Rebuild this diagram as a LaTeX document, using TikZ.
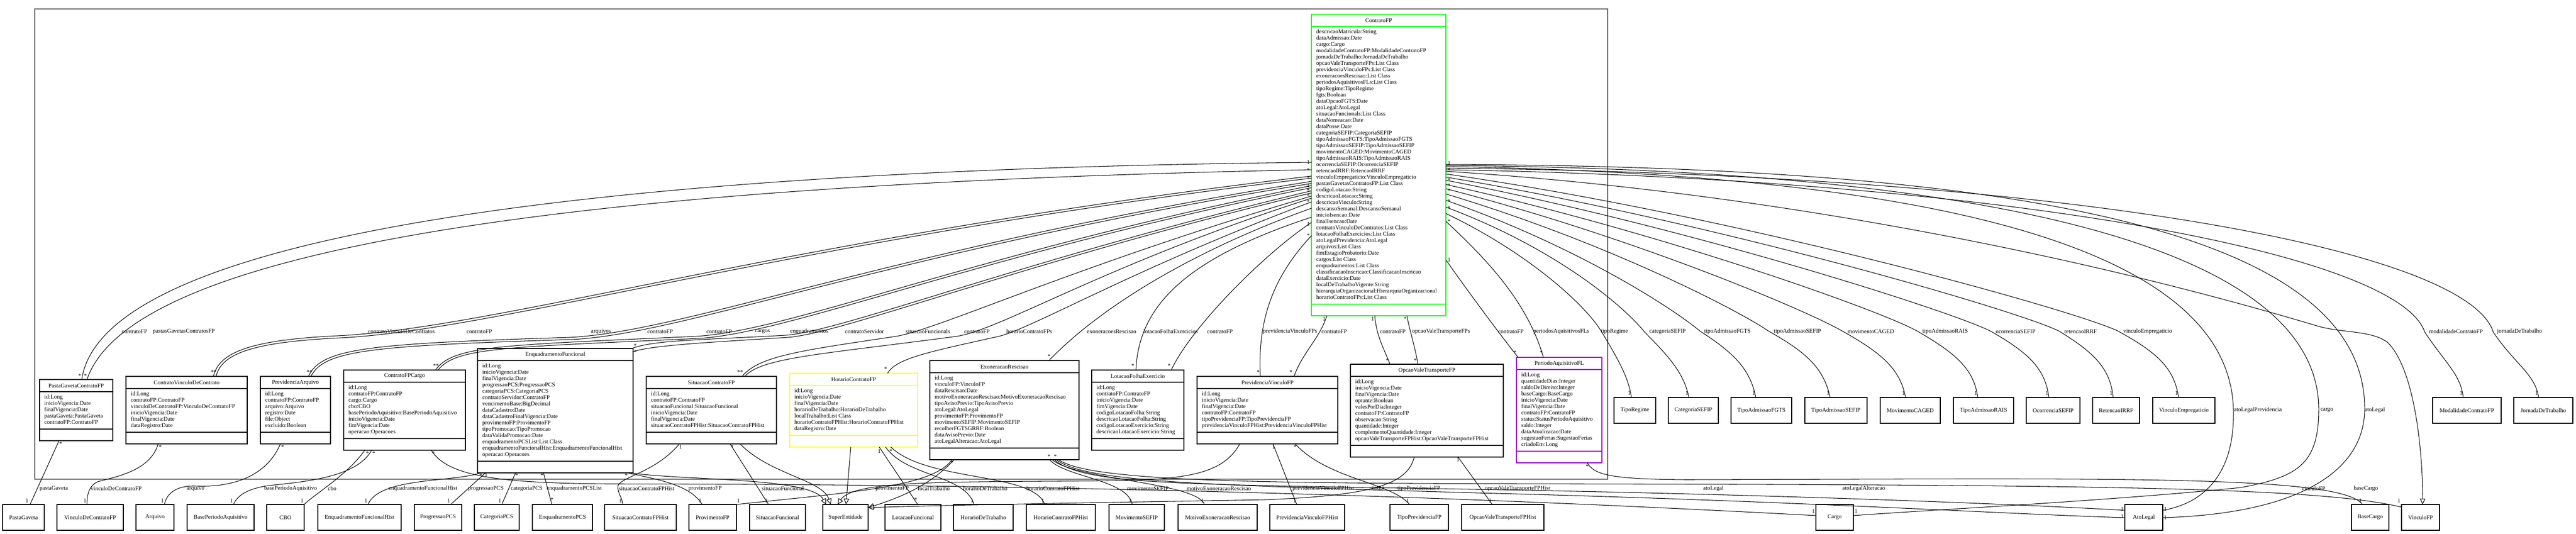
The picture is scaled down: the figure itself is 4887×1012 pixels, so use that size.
\documentclass[tikz,border=0pt]{standalone}
\usepackage{fontspec}
\setmainfont{Liberation Serif}
\usetikzlibrary{arrows.meta}
\definecolor{ugreen}{RGB}{0,255,0}
\definecolor{uyellow}{RGB}{255,255,0}
\definecolor{upurple}{RGB}{153,0,204}
\definecolor{framegray}{RGB}{90,90,90}
\tikzset{
 txt/.style={font=\fontsize{11}{12}\selectfont, inner sep=0pt},
 bplain/.style={draw=black, line width=1.4pt},
 bgreen/.style={draw=ugreen, line width=2.6pt},
 byellow/.style={draw=uyellow, line width=2.6pt},
 bpurple/.style={draw=upurple, line width=2.6pt},
 smallbox/.style={bplain, fill=white, txt, minimum height=49pt, anchor=north west, outer sep=0pt},
 conn/.style={line width=1.05pt, black},
 genarrow/.style={conn, -{Triangle[open, length=11pt, width=10pt]}},
 lbl/.style={txt, anchor=west},
 mlt/.style={txt},
}
\newcommand\umlclass[8]{%
  \node[#6, fill=white, inner sep=0pt, outer sep=0pt, minimum width=#4pt,
        minimum height={(56+12*#5)*1pt}, anchor=north west] (#1) at (#2,#3) {};
  \draw[#6] (#2,#3+23) -- (#2+#4,#3+23);
  \draw[#6] (#2,#3+34+12*#5) -- (#2+#4,#3+34+12*#5);
  \node[txt] at (#2+#4/2,#3+11.5) {#7};
  \node[txt, anchor=north west, align=left] at (#2+9,#3+29) {#8};
}
\begin{document}
\begin{tikzpicture}[x=1pt,y=-1pt]
\useasboundingbox[fill=white] (0,0) rectangle (4887,1012);
% package frame
\node[draw=framegray, line width=1.5pt, minimum width=2984pt, minimum height=892pt, anchor=north west, inner sep=0pt] (pkg) at (65,16) {};

% ---------------- classes ----------------
\umlclass{cfp}{2488}{27}{255}{43}{bgreen}{ContratoFP}{descricaoMatricula:String\\dataAdmissao:Date\\cargo:Cargo\\modalidadeContratoFP:ModalidadeContratoFP\\jornadaDeTrabalho:JornadaDeTrabalho\\opcaoValeTransporteFPs:List Class\\previdenciaVinculoFPs:List Class\\exoneracoesRescisao:List Class\\periodosAquisitivosFLs:List Class\\tipoRegime:TipoRegime\\fgts:Boolean\\dataOpcaoFGTS:Date\\atoLegal:AtoLegal\\situacaoFuncionals:List Class\\dataNomeacao:Date\\dataPosse:Date\\categoriaSEFIP:CategoriaSEFIP\\tipoAdmissaoFGTS:TipoAdmissaoFGTS\\tipoAdmissaoSEFIP:TipoAdmissaoSEFIP\\movimentoCAGED:MovimentoCAGED\\tipoAdmissaoRAIS:TipoAdmissaoRAIS\\ocorrenciaSEFIP:OcorrenciaSEFIP\\retencaoIRRF:RetencaoIRRF\\vinculoEmpregaticio:VinculoEmpregaticio\\pastasGavetasContratosFP:List Class\\codigoLotacao:String\\descricaoLotacao:String\\descricaoVinculo:String\\descansoSemanal:DescansoSemanal\\inicioIsencao:Date\\finalIsencao:Date\\contratoVinculoDeContratos:List Class\\lotacaoFolhaExercicios:List Class\\atoLegalPrevidencia:AtoLegal\\arquivos:List Class\\fimEstagioProbatorio:Date\\cargos:List Class\\enquadramentos:List Class\\classificacaoInscricao:ClassificacaoInscricao\\dataExercicio:Date\\localDeTrabalhoVigente:String\\hierarquiaOrganizacional:HierarquiaOrganizacional\\horarioContratoFPs:List Class}

\umlclass{pgc}{75}{720}{139}{5}{bplain}{PastaGavetaContratoFP}{id:Long\\inicioVigencia:Date\\finalVigencia:Date\\pastaGaveta:PastaGaveta\\contratoFP:ContratoFP}
\umlclass{cvc}{239}{714}{230}{6}{bplain}{ContratoVinculoDeContrato}{id:Long\\contratoFP:ContratoFP\\vinculoDeContratoFP:VinculoDeContratoFP\\inicioVigencia:Date\\finalVigencia:Date\\dataRegistro:Date}
\umlclass{parq}{494}{714}{133}{6}{bplain}{PrevidenciaArquivo}{id:Long\\contratoFP:ContratoFP\\arquivo:Arquivo\\registro:Date\\file:Object\\excluido:Boolean}
\umlclass{cfc}{652}{702}{231}{8}{bplain}{ContratoFPCargo}{id:Long\\contratoFP:ContratoFP\\cargo:Cargo\\cbo:CBO\\basePeriodoAquisitivo:BasePeriodoAquisitivo\\inicioVigencia:Date\\fimVigencia:Date\\operacao:Operacoes}
\umlclass{enf}{906}{661}{295}{15}{bplain}{EnquadramentoFuncional}{id:Long\\inicioVigencia:Date\\finalVigencia:Date\\progressaoPCS:ProgressaoPCS\\categoriaPCS:CategoriaPCS\\contratoServidor:ContratoFP\\vencimentoBase:BigDecimal\\dataCadastro:Date\\dataCadastroFinalVigencia:Date\\provimentoFP:ProvimentoFP\\tipoPromocao:TipoPromocao\\dataValidaPromocao:Date\\enquadramentoPCSList:List Class\\enquadramentoFuncionalHist:EnquadramentoFuncionalHist\\operacao:Operacoes}
\umlclass{scf}{1226}{714}{247}{6}{bplain}{SituacaoContratoFP}{id:Long\\contratoFP:ContratoFP\\situacaoFuncional:SituacaoFuncional\\inicioVigencia:Date\\finalVigencia:Date\\situacaoContratoFPHist:SituacaoContratoFPHist}
\umlclass{hcf}{1498}{708}{243}{7}{byellow}{HorarioContratoFP}{id:Long\\inicioVigencia:Date\\finalVigencia:Date\\horarioDeTrabalho:HorarioDeTrabalho\\localTrabalho:List Class\\horarioContratoFPHist:HorarioContratoFPHist\\dataRegistro:Date}
\umlclass{exr}{1764}{684}{283}{11}{bplain}{ExoneracaoRescisao}{id:Long\\vinculoFP:VinculoFP\\dataRescisao:Date\\motivoExoneracaoRescisao:MotivoExoneracaoRescisao\\tipoAvisoPrevio:TipoAvisoPrevio\\atoLegal:AtoLegal\\provimentoFP:ProvimentoFP\\movimentoSEFIP:MovimentoSEFIP\\recolherFGTSGRRF:Boolean\\dataAvisoPrevio:Date\\atoLegalAlteracao:AtoLegal}
\umlclass{lfe}{2071}{702}{175}{8}{bplain}{LotacaoFolhaExercicio}{id:Long\\contratoFP:ContratoFP\\inicioVigencia:Date\\fimVigencia:Date\\codigoLotacaoFolha:String\\descricaoLotacaoFolha:String\\codigoLotacaoExercicio:String\\descricaoLotacaoExercicio:String}
\umlclass{pvf}{2271}{714}{267}{6}{bplain}{PrevidenciaVinculoFP}{id:Long\\inicioVigencia:Date\\finalVigencia:Date\\contratoFP:ContratoFP\\tipoPrevidenciaFP:TipoPrevidenciaFP\\previdenciaVinculoFPHist:PrevidenciaVinculoFPHist}
\umlclass{ovt}{2562}{691}{290}{10}{bplain}{OpcaoValeTransporteFP}{id:Long\\inicioVigencia:Date\\finalVigencia:Date\\optante:Boolean\\valesPorDia:Integer\\contratoFP:ContratoFP\\observacao:String\\quantidade:Integer\\complementoQuantidade:Integer\\opcaoValeTransporteFPHist:OpcaoValeTransporteFPHist}
\umlclass{paf}{2877}{678}{162}{12}{bpurple}{PeriodoAquisitivoFL}{id:Long\\quantidadeDias:Integer\\saldoDeDireito:Integer\\baseCargo:BaseCargo\\inicioVigencia:Date\\finalVigencia:Date\\contratoFP:ContratoFP\\status:StatusPeriodoAquisitivo\\saldo:Integer\\dataAtualizacao:Date\\sugestaoFerias:SugestaoFerias\\criadoEm:Long}

% ---------------- enum boxes (right) ----------------
\node[smallbox, minimum width=79pt] (eTR) at (3062,754) {TipoRegime};
\node[smallbox, minimum width=95pt] (eCS) at (3165,754) {CategoriaSEFIP};
\node[smallbox, minimum width=115pt] (eTAF) at (3284,754) {TipoAdmissaoFGTS};
\node[smallbox, minimum width=118pt] (eTAS) at (3424,754) {TipoAdmissaoSEFIP};
\node[smallbox, minimum width=114pt] (eMC) at (3567,754) {MovimentoCAGED};
\node[smallbox, minimum width=114pt] (eTAR) at (3706,754) {TipoAdmissaoRAIS};
\node[smallbox, minimum width=102pt] (eOS) at (3844,754) {OcorrenciaSEFIP};
\node[smallbox, minimum width=89pt] (eRI) at (3970,754) {RetencaoIRRF};
\node[smallbox, minimum width=118pt] (eVE) at (4084,754) {VinculoEmpregaticio};
\node[smallbox, minimum width=130pt] (eMCF) at (4615,754) {ModalidadeContratoFP};
\node[smallbox, minimum width=112pt] (eJT) at (4769,754) {JornadaDeTrabalho};

% ---------------- bottom boxes ----------------
\node[smallbox, minimum width=79pt] (bPG) at (5,957) {PastaGaveta};
\node[smallbox, minimum width=126pt] (bVDC) at (108,957) {VinculoDeContratoFP};
\node[smallbox, minimum width=72pt] (bArq) at (258,957) {Arquivo};
\node[smallbox, minimum width=127pt] (bBPA) at (355,957) {BasePeriodoAquisitivo};
\node[smallbox, minimum width=71pt] (bCBO) at (506,957) {CBO};
\node[smallbox, minimum width=158pt] (bEFH) at (603,957) {EnquadramentoFuncionalHist};
\node[smallbox, minimum width=90pt] (bPPCS) at (786,957) {ProgressaoPCS};
\node[smallbox, minimum width=85pt] (bCPCS) at (900,957) {CategoriaPCS};
\node[smallbox, minimum width=114pt] (bEPCS) at (1010,957) {EnquadramentoPCS};
\node[smallbox, minimum width=136pt] (bSCFH) at (1147,957) {SituacaoContratoFPHist};
\node[smallbox, minimum width=90pt] (bProv) at (1307,957) {ProvimentoFP};
\node[smallbox, minimum width=106pt] (bSF) at (1422,957) {SituacaoFuncional};
\node[smallbox, minimum width=86pt] (bSE) at (1561,957) {SuperEntidade};
\node[smallbox, minimum width=106pt] (bLF) at (1679,957) {LotacaoFuncional};
\node[smallbox, minimum width=113pt] (bHDT) at (1809,957) {HorarioDeTrabalho};
\node[smallbox, minimum width=131pt] (bHCFH) at (1947,957) {HorarioContratoFPHist};
\node[smallbox, minimum width=105pt] (bMS) at (2104,957) {MovimentoSEFIP};
\node[smallbox, minimum width=150pt] (bMER) at (2235,957) {MotivoExoneracaoRescisao};
\node[smallbox, minimum width=142pt] (bPVFH) at (2409,957) {PrevidenciaVinculoFPHist};
\node[smallbox, minimum width=111pt] (bTPF) at (2637,957) {TipoPrevidenciaFP};
\node[smallbox, minimum width=156pt] (bOVTH) at (2773,957) {OpcaoValeTransporteFPHist};
\node[smallbox, minimum width=71pt] (bCargo) at (3445,957) {Cargo};
\node[smallbox, minimum width=72pt] (bAL) at (4031,957) {AtoLegal};
\node[smallbox, minimum width=71pt] (bBC) at (4461,957) {BaseCargo};
\node[smallbox, minimum width=72pt] (bVFP) at (4556,957) {VinculoFP};

% ---------------- edges from ContratoFP, left side ----------------
\draw[conn] ([yshift=-281pt]cfp.north west) .. controls (1300,320) and (200,420) .. ([xshift=80pt]pgc.north west);
\draw[conn] ([yshift=-295pt]cfp.north west) .. controls (1300,345) and (260,440) .. ([xshift=90pt]pgc.north west);
\draw[conn] ([yshift=-307pt]cfp.north west) .. controls (1500,450) and (950,622) .. (640,637) .. controls (470,645) and (415,670) .. ([xshift=166pt]cvc.north west);
\draw[conn] ([yshift=-311pt]cfp.north west) .. controls (1500,455) and (950,626) .. (645,641) .. controls (475,649) and (420,672) .. ([xshift=171pt]cvc.north west);
\draw[conn] ([yshift=-317pt]cfp.north west) .. controls (1700,470) and (1300,630) .. (1080,640) .. controls (700,652) and (610,660) .. ([xshift=91pt]parq.north west);
\draw[conn] ([yshift=-321pt]cfp.north west) .. controls (1700,475) and (1300,634) .. (1085,644) .. controls (705,656) and (615,664) .. ([xshift=96pt]parq.north west);
\draw[conn] ([yshift=-325pt]cfp.north west) .. controls (1850,480) and (1500,628) .. (1320,638) .. controls (950,655) and (860,655) .. ([xshift=174pt]cfc.north west);
\draw[conn] ([yshift=-329pt]cfp.north west) .. controls (1850,485) and (1500,632) .. (1325,642) .. controls (955,659) and (865,659) .. ([xshift=179pt]cfc.north west);
\draw[conn] ([yshift=-335pt]cfp.north west) .. controls (1950,490) and (1600,628) .. (1490,636) .. controls (1330,645) and (1240,645) .. ([xshift=-2pt]enf.north east);
\draw[conn] ([yshift=-339pt]cfp.north west) .. controls (1950,495) and (1600,632) .. (1495,640) .. controls (1335,650) and (1240,655) .. ([yshift=-6pt]enf.north east);
\draw[conn] ([yshift=-345pt]cfp.north west) .. controls (2050,500) and (1780,625) .. (1700,638) .. controls (1520,665) and (1440,675) .. ([xshift=182pt]scf.north west);
\draw[conn] ([yshift=-349pt]cfp.north west) .. controls (2100,500) and (1900,625) .. (1815,638) .. controls (1560,672) and (1445,678) .. ([xshift=187pt]scf.north west);
\draw[conn] ([yshift=-356pt]cfp.north west) .. controls (2150,510) and (1960,622) .. (1895,638) .. controls (1760,668) and (1700,680) .. ([xshift=186pt]hcf.north west);
\draw[conn] ([yshift=-368pt]cfp.north west) .. controls (2250,480) and (2080,590) .. ([xshift=226pt]exr.north west);
\draw[conn] ([yshift=-385pt]cfp.north west) .. controls (2250,490) and (2160,580) .. ([xshift=84pt]lfe.north west);
\draw[conn] ([yshift=-395pt]cfp.north west) .. controls (2400,480) and (2260,620) .. ([xshift=151pt]lfe.north west);
\draw[conn] ([yshift=-420pt]cfp.north west) .. controls (2420,520) and (2385,600) .. ([xshift=120pt]pvf.north west);
\draw[conn] ([xshift=29pt]cfp.south west) .. controls (2505,640) and (2470,670) .. ([xshift=184pt]pvf.north west);
\draw[conn] ([xshift=120pt]cfp.south west) .. controls (2612,640) and (2625,660) .. ([xshift=75pt]ovt.north west);
\draw[conn] ([xshift=181pt]cfp.south west) .. controls (2675,630) and (2685,660) .. ([xshift=128pt]ovt.north west);
\draw[conn] ([yshift=-466pt]cfp.north east) .. controls (2790,560) and (2850,640) .. ([xshift=3pt]paf.north west);
\draw[conn] ([yshift=-393pt]cfp.north east) .. controls (2830,500) and (2900,580) .. ([xshift=51pt]paf.north west);

% ---------------- edges from ContratoFP, right side ----------------
\draw[conn] ([yshift=-378pt]cfp.north east) .. controls (2900,480) and (3010,580) .. (3040,632) .. controls (3075,690) and (3090,720) .. ([xshift=33pt]eTR.north west);
\draw[conn] ([yshift=-366pt]cfp.north east) .. controls (2950,470) and (3080,580) .. (3120,630) .. controls (3170,680) and (3195,710) .. ([xshift=39pt]eCS.north west);
\draw[conn] ([yshift=-353pt]cfp.north east) .. controls (3000,470) and (3180,590) .. (3225,628) .. controls (3290,670) and (3320,700) .. ([xshift=47pt]eTAF.north west);
\draw[conn] ([yshift=-341pt]cfp.north east) .. controls (3050,460) and (3300,590) .. (3355,628) .. controls (3430,670) and (3460,700) .. ([xshift=48pt]eTAS.north west);
\draw[conn] ([yshift=-331pt]cfp.north east) .. controls (3100,450) and (3430,590) .. (3495,628) .. controls (3570,670) and (3605,700) .. ([xshift=48pt]eMC.north west);
\draw[conn] ([yshift=-323pt]cfp.north east) .. controls (3150,440) and (3570,590) .. (3637,628) .. controls (3710,670) and (3745,700) .. ([xshift=46pt]eTAR.north west);
\draw[conn] ([yshift=-315pt]cfp.north east) .. controls (3200,430) and (3700,590) .. (3776,628) .. controls (3850,670) and (3880,700) .. ([xshift=43pt]eOS.north west);
\draw[conn] ([yshift=-309pt]cfp.north east) .. controls (3250,420) and (3830,590) .. (3906,628) .. controls (3975,670) and (4003,700) .. ([xshift=39pt]eRI.north west);
\draw[conn] ([yshift=-303pt]cfp.north east) .. controls (3300,410) and (3940,590) .. (4018,628) .. controls (4095,670) and (4125,700) .. ([xshift=49pt]eVE.north west);
\draw[conn] ([yshift=-295pt]cfp.north east) .. controls (3800,340) and (4550,480) .. (4600,630) .. controls (4640,690) and (4668,710) .. ([xshift=58pt]eMCF.north west);
\draw[conn] ([yshift=-292pt]cfp.north east) .. controls (3900,330) and (4680,470) .. (4730,630) .. controls (4770,690) and (4810,710) .. ([xshift=47pt]eJT.north west);
\draw[genarrow] ([yshift=-298pt]cfp.north east) .. controls (3300,360) and (3900,470) .. (4395,618) .. controls (4440,632) and (4500,626) .. (4530,650) .. controls (4580,700) and (4596,850) .. ([xshift=40pt]bVFP.north west);
\draw[conn] ([yshift=-289pt]cfp.north east) .. controls (3600,330) and (4230,450) .. (4237,778) .. controls (4240,900) and (4180,955) .. ([yshift=-11pt]bAL.north east);
\draw[conn] ([yshift=-287pt]cfp.north east) .. controls (3700,320) and (4400,450) .. (4399,778) .. controls (4398,880) and (4360,905) .. (4250,925) .. controls (4000,950) and (3700,965) .. ([yshift=-21pt]bCargo.north east);
\draw[conn] ([yshift=-285pt]cfp.north east) .. controls (3800,315) and (4490,430) .. (4486,778) .. controls (4484,900) and (4350,975) .. ([yshift=-25pt]bAL.north east);

% ---------------- lower edges ----------------
\draw[conn] ([xshift=37pt]pgc.south west) -- ([xshift=52pt]bPG.north west);
\draw[conn] ([xshift=61pt]cvc.south west) .. controls (285,895) and (215,905) .. (185,914) .. controls (168,922) and (165,940) .. ([xshift=57pt]bVDC.north west);
\draw[conn] ([xshift=38pt]parq.south west) .. controls (505,905) and (440,925) .. (370,922) .. controls (330,921) and (315,940) .. ([xshift=54pt]bArq.north west);
\draw[conn] ([xshift=53pt]cfc.south west) .. controls (680,900) and (600,912) .. (520,920) .. controls (470,925) and (450,940) .. ([xshift=88pt]bBPA.north west);
\draw[conn] ([xshift=40pt]cfc.south west) .. controls (660,900) and (600,935) .. (bCBO.north east);
\draw[conn] ([xshift=166pt]cfc.south west) .. controls (850,905) and (950,916) .. (1150,918) .. controls (2300,918) and (3100,960) .. ([yshift=-21pt]bCargo.north west);
\draw[conn] ([xshift=6pt]enf.south west) .. controls (860,915) and (720,905) .. ([xshift=95pt]bEFH.north west);
\draw[conn] ([xshift=15pt]enf.south west) -- ([xshift=69pt]bPPCS.north west);
\draw[conn] ([xshift=72pt]enf.south west) -- ([xshift=52pt]bCPCS.north west);
\draw[conn] ([xshift=125pt]enf.south west) -- ([xshift=37pt]bEPCS.north west);
\draw[conn] ([xshift=284pt]enf.south west) .. controls (1250,910) and (1310,920) .. ([xshift=25pt]bProv.north west);
\draw[genarrow] ([xshift=289pt]enf.south west) .. controls (1300,912) and (1540,905) .. ([xshift=6pt]bSE.north west);
\draw[conn] ([xshift=63pt]scf.south west) .. controls (1240,900) and (1170,905) .. (1172,925) .. controls (1174,940) and (1181,945) .. ([xshift=34pt]bSCFH.north west);
\draw[conn] ([xshift=159pt]scf.south west) -- ([xshift=36pt]bSF.north west);
\draw[genarrow] ([xshift=178pt]scf.south west) .. controls (1460,900) and (1560,910) .. ([xshift=15pt]bSE.north west);
\draw[genarrow] ([xshift=116pt]hcf.south west) -- ([xshift=44pt]bSE.north west);
\draw[conn] ([xshift=170pt]hcf.south west) -- ([xshift=62pt]bLF.north west);
\draw[conn] ([xshift=182pt]hcf.south west) .. controls (1720,905) and (1830,900) .. ([xshift=39pt]bHDT.north west);
\draw[conn] ([xshift=192pt]hcf.south west) .. controls (1760,915) and (1960,895) .. ([xshift=35pt]bHCFH.north west);
\draw[conn] ([xshift=42pt]exr.south west) .. controls (1770,925) and (1600,935) .. (bProv.north east);
\draw[genarrow] ([xshift=46pt]exr.south west) .. controls (1770,915) and (1720,940) .. ([yshift=-6pt]bSE.north east);
\draw[conn] ([xshift=227pt]exr.south west) .. controls (2020,905) and (2140,910) .. ([xshift=44pt]bMS.north west);
\draw[conn] ([xshift=232pt]exr.south west) .. controls (2040,910) and (2270,915) .. ([xshift=50pt]bMER.north west);
\draw[conn] ([xshift=236pt]exr.south west) .. controls (2050,915) and (2200,918) .. (2600,925) .. controls (3300,935) and (3800,955) .. ([yshift=-11pt]bAL.north west);
\draw[conn] ([xshift=240pt]exr.south west) .. controls (2060,916) and (2300,920) .. (2800,935) .. controls (3400,950) and (3800,975) .. ([yshift=-25pt]bAL.north west);
\draw[conn] ([xshift=244pt]exr.south west) .. controls (2070,915) and (2400,917) .. (3000,918) .. controls (4000,920) and (4400,925) .. ([yshift=-5pt]bVFP.north west);
\draw[genarrow] ([xshift=81pt]pvf.south west) .. controls (2320,900) and (2250,910) .. (2100,912) .. controls (1800,915) and (1620,910) .. ([xshift=28pt]bSE.north west);
\draw[conn] ([xshift=144pt]pvf.south west) -- ([xshift=51pt]bPVFH.north west);
\draw[conn] ([xshift=186pt]pvf.south west) .. controls (2520,910) and (2640,915) .. ([xshift=37pt]bTPF.north west);
\draw[genarrow] ([xshift=121pt]ovt.south west) .. controls (2670,920) and (2600,940) .. (2400,948) .. controls (2000,955) and (1800,958) .. ([yshift=-6pt]bSE.north east);
\draw[conn] ([xshift=204pt]ovt.south west) -- ([xshift=58pt]bOVTH.north west);
\draw[conn] ([xshift=134pt]paf.south west) .. controls (3025,900) and (3050,909) .. (3200,910) .. controls (4000,908) and (4440,900) .. ([xshift=21pt]bBC.north west);

% ---------------- role labels ----------------
\foreach \x/\t in {231/contratoFP, 290/pastasGavetasContratosFP, 698/contratoVinculoDeContratos, 885/contratoFP, 1121/arquivos, 1228/contratoFP, 1340/contratoFP, 1432/cargos, 1499/enquadramentos, 1603/contratoServidor, 1718/situacaoFuncionals, 1829/contratoFP, 1909/horarioContratoFPs, 2062/exoneracoesRescisao, 2169/lotacaoFolhaExercicios, 2290/contratoFP, 2396/previdenciaVinculoFPs, 2507/contratoFP, 2618/contratoFP, 2679/opcaoValeTransporteFPs, 2842/contratoFP, 2909/periodosAquisitivosFLs, 3037/tipoRegime, 3129/categoriaSEFIP, 3233/tipoAdmissaoFGTS, 3365/tipoAdmissaoSEFIP, 3505/movimentoCAGED, 3647/tipoAdmissaoRAIS, 3786/ocorrenciaSEFIP, 3916/retencaoIRRF, 4028/vinculoEmpregaticio, 4608/modalidadeContratoFP, 4737/jornadaDeTrabalho}
  \node[lbl] at (\x,629) {\t};
\foreach \x/\t in {4238/atoLegalPrevidencia, 4402/cargo, 4486/atoLegal}
  \node[lbl] at (\x,778) {\t};
\foreach \x/\t in {75/pastaGaveta, 172/vinculoDeContratoFP, 354/arquivo, 501/basePeriodoAquisitivo, 622/cbo, 737/enquadramentoFuncionalHist, 888/progressaoPCS, 969/categoriaPCS, 1037/enquadramentoPCSList, 1174/situacaoContratoFPHist, 1306/provimentoFP, 1445/situacaoFuncional, 1661/provimentoFP, 1741/localTrabalho, 1827/horarioDeTrabalho, 1947/horarioContratoFPHist, 2138/movimentoSEFIP, 2251/motivoExoneracaoRescisao, 2452/previdenciaVinculoFPHist, 2602/cargo, 2651/tipoPrevidenciaFP, 2817/opcaoValeTransporteFPHist, 3231/atoLegal, 3495/atoLegalAlteracao, 4366/vinculoFP, 4465/baseCargo}
  \node[lbl] at (\x,927) {\t};

% ---------------- multiplicities ----------------
\foreach \x/\y/\t in {151/713/*, 162/713/*, 405/706/**, 587/706/**, 827/694/**, 1205/656/*, 1205/668/*, 1404/706/**, 1680/700/*, 1990/676/*, 2149/694/*, 2218/694/*, 2387/706/*, 2449/706/*, 2632/684/*, 2685/684/*, 2874/669/*, 2924/669/*, 2512/605/1, 2604/605/1, 2666/605/*,
  2482/308/1, 2482/323/*, 2482/338/*, 2482/352/1, 2482/362/*, 2482/372/*, 2482/383/*, 2482/425/1, 2482/447/*,
  2749/310/1, 2749/323/*, 2749/342/*, 2749/352/*, 2749/362/*, 2749/382/*, 2749/395/*, 2749/420/*, 2749/493/1,
  3091/746/1, 3200/746/1, 3327/746/1, 3468/746/1, 3611/746/1, 3748/746/1, 3883/746/1, 4005/746/1, 4129/746/1, 4669/746/1, 4812/746/1,
  51/950/1, 161/950/1, 308/950/1, 439/950/1, 573/950/1, 694/950/1, 851/950/1, 948/950/1, 1047/948/*, 1177/950/1, 1328/950/1, 1401/950/1, 1454/950/1, 1737/948/*, 1844/950/1, 1978/950/1, 2144/950/1, 2281/950/1, 2456/950/1, 2670/950/1, 2827/950/1, 4478/950/1, 4551/950/1,
  3440/970/1, 3521/970/1, 4026/966/1, 4026/980/1, 4108/966/1, 4108/982/1,
  115/842/*, 304/848/*, 536/848/*, 697/860/*, 709/860/*, 822/860/*, 912/902/*, 922/902/1, 980/902/*, 1028/902/*, 1188/902/*, 1291/848/1, 1389/848/*, 1668/856/1, 1690/856/*, 1806/878/*, 1990/866/*, 2002/866/*, 2416/848/1, 2457/848/*, 2766/872/1, 3011/885/*}
  \node[mlt] at (\x,\y) {\t};
\end{tikzpicture}
\end{document}
